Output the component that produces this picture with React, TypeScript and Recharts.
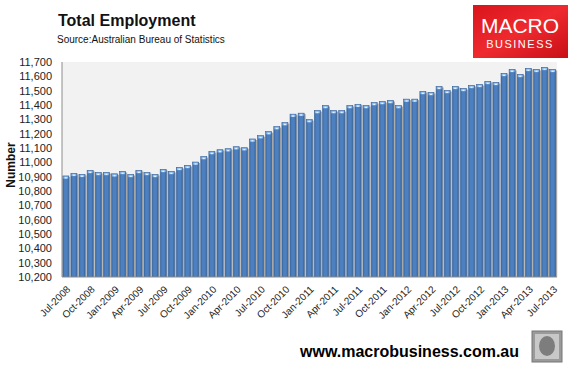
import React from "react";
import { BarChart, Bar, XAxis, YAxis, CartesianGrid } from "recharts";

const months = [
  "Jul-2008","Aug-2008","Sep-2008","Oct-2008","Nov-2008","Dec-2008",
  "Jan-2009","Feb-2009","Mar-2009","Apr-2009","May-2009","Jun-2009",
  "Jul-2009","Aug-2009","Sep-2009","Oct-2009","Nov-2009","Dec-2009",
  "Jan-2010","Feb-2010","Mar-2010","Apr-2010","May-2010","Jun-2010",
  "Jul-2010","Aug-2010","Sep-2010","Oct-2010","Nov-2010","Dec-2010",
  "Jan-2011","Feb-2011","Mar-2011","Apr-2011","May-2011","Jun-2011",
  "Jul-2011","Aug-2011","Sep-2011","Oct-2011","Nov-2011","Dec-2011",
  "Jan-2012","Feb-2012","Mar-2012","Apr-2012","May-2012","Jun-2012",
  "Jul-2012","Aug-2012","Sep-2012","Oct-2012","Nov-2012","Dec-2012",
  "Jan-2013","Feb-2013","Mar-2013","Apr-2013","May-2013","Jun-2013",
  "Jul-2013",
];

const employment = [
  10905, 10923, 10916, 10943, 10929, 10929,
  10920, 10936, 10915, 10943, 10929, 10915,
  10950, 10936, 10964, 10978, 11002, 11040,
  11075, 11088, 11095, 11109, 11102, 11163,
  11186, 11214, 11249, 11277, 11336, 11343,
  11298, 11361, 11396, 11361, 11361, 11396,
  11405, 11396, 11417, 11424, 11431, 11396,
  11441, 11441, 11494, 11487, 11529, 11501,
  11529, 11515, 11536, 11543, 11564, 11557,
  11620, 11648, 11613, 11655, 11648, 11662,
  11648,
];

const yTicks = [
  10200, 10300, 10400, 10500, 10600, 10700, 10800, 10900,
  11000, 11100, 11200, 11300, 11400, 11500, 11600, 11700,
];

const tickLabels = months.filter((_, i) => i % 3 === 0);

const data = months.map((m, i) => ({ month: m, value: employment[i] }));

const FONT = "'Liberation Sans', Arial, sans-serif";

const BarShape = (props: any) => {
  const { x, y, width, height } = props;
  if (height <= 0) return null;
  return (
    <g>
      <rect x={x + 1.5} y={y + 1} width={width} height={height - 1} fill="#a6a6a6" />
      <rect x={x} y={y} width={width} height={height} fill="url(#barGrad)" stroke="#3b659a" strokeWidth={0.6} />
      <rect x={x + 0.6} y={y + 0.5} width={width - 1.2} height={2.2} fill="#8fbdf0" />
      <rect x={x + width / 2 - 1} y={y + 1.2} width={2} height={1.3} fill="#e4f1ff" />
    </g>
  );
};

const XTick = (props: any) => {
  const { x, y, payload } = props;
  const ax = x + 5;
  const ay = y + 5;
  return (
    <text
      x={ax}
      y={ay}
      transform={`rotate(-45, ${ax}, ${ay})`}
      textAnchor="end"
      fontFamily={FONT}
      fontSize={10}
      fill="#222"
    >
      {payload.value}
    </text>
  );
};

export default function App() {
  return (
    <div style={{ position: "absolute", left: 0, top: 0, width: 573, height: 366, background: "#fff" }}>
      <BarChart
        width={573}
        height={366}
        data={data}
        margin={{ top: 62, right: 16, bottom: 0, left: 10 }}
        barCategoryGap="10%"
      >
        <defs>
          <linearGradient id="barGrad" x1="0" y1="0" x2="1" y2="0">
            <stop offset="0%" stopColor="#3a679f" />
            <stop offset="30%" stopColor="#4d80c0" />
            <stop offset="70%" stopColor="#4d80c0" />
            <stop offset="100%" stopColor="#3a679f" />
          </linearGradient>
          <linearGradient id="logoGrad" x1="0" y1="0" x2="1" y2="1">
            <stop offset="0%" stopColor="#d9141c" />
            <stop offset="50%" stopColor="#ee2a2f" />
            <stop offset="100%" stopColor="#c80f16" />
          </linearGradient>
        </defs>
        <CartesianGrid fill="#f2f2f2" horizontal={false} vertical={false} stroke="none" />
        <XAxis
          dataKey="month"
          ticks={tickLabels}
          interval={0}
          tick={<XTick />}
          tickLine={false}
          axisLine={{ stroke: "#8c8c8c" }}
          height={89}
        />
        <YAxis
          domain={[10200, 11700]}
          ticks={yTicks}
          interval={0}
          width={52}
          tickLine={false}
          axisLine={{ stroke: "#8c8c8c" }}
          tickFormatter={(v: number) => v.toLocaleString("en-US")}
          tick={{ fontFamily: FONT, fontSize: 11, fill: "#222" }}
          tickMargin={4}
          allowDataOverflow
        />
        <Bar dataKey="value" shape={<BarShape />} isAnimationActive={false} />
        <text x={58} y={26} fontFamily={FONT} fontSize={16} fontWeight="bold" fill="#111">
          Total Employment
        </text>
        <text x={57} y={43} fontFamily={FONT} fontSize={10} fill="#111">
          Source:Australian Bureau of Statistics
        </text>
        <text
          x={15}
          y={165}
          transform="rotate(-90, 15, 165)"
          textAnchor="middle"
          fontFamily={FONT}
          fontSize={12}
          fontWeight="bold"
          fill="#111"
        >
          Number
        </text>
        <rect x={473} y={5} width={95} height={53} fill="url(#logoGrad)" />
        <text x={520} y={33} textAnchor="middle" fontFamily={FONT} fontSize={21} fill="#fff">
          MACRO
        </text>
        <text x={520} y={48} textAnchor="middle" fontFamily={FONT} fontSize={11} letterSpacing={1.5} fill="#fff">
          BUSINESS
        </text>
        <text x={300} y={357} fontFamily={FONT} fontSize={16} fontWeight="bold" fill="#000">
          www.macrobusiness.com.au
        </text>
        <rect x={532} y={331} width={30} height={31} fill="#9a9a9a" stroke="#777" strokeWidth={1} />
        <rect x={535} y={334} width={24} height={25} fill="#c8c8c8" />
        <ellipse cx={547} cy={346} rx={8} ry={10} fill="#7d7d7d" />
      </BarChart>
    </div>
  );
}
